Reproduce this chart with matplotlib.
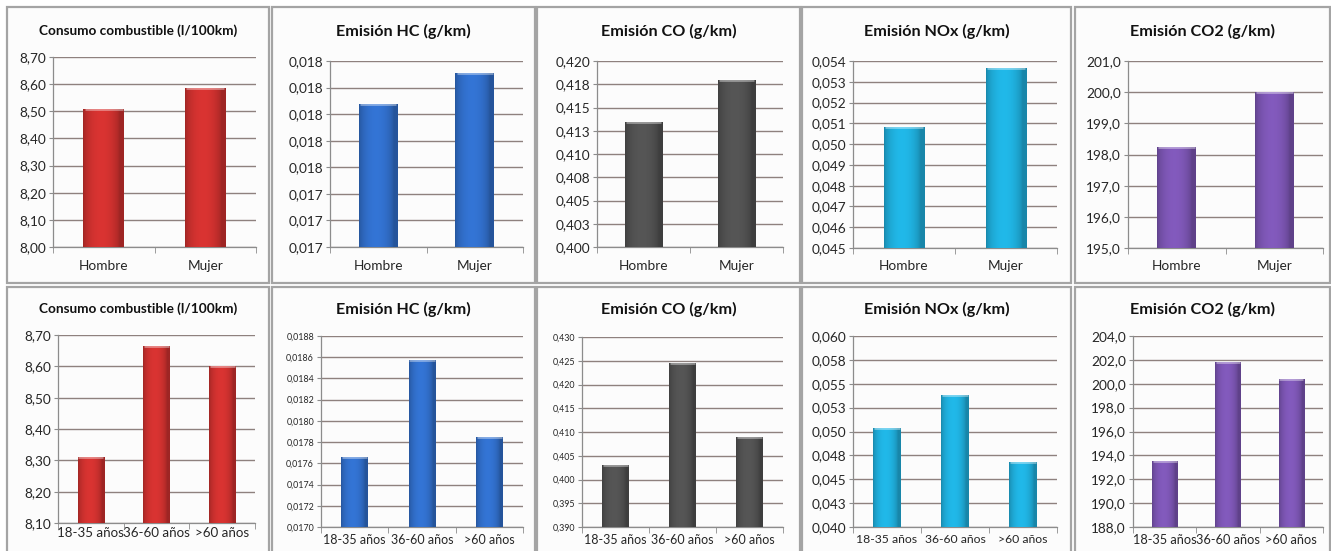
import numpy as np
import matplotlib.pyplot as plt
from matplotlib.patches import Rectangle
from matplotlib.colors import to_rgb
from decimal import Decimal, ROUND_HALF_UP

plt.rcParams['font.family'] = ['Lato', 'DejaVu Sans']

# categories
sexo = ['Hombre', 'Mujer']
edad = ['18-35 años', '36-60 años', '>60 años']

# values by sex
consumo_sexo = [8.507, 8.587]
hc_sexo = [0.01808, 0.01831]
co_sexo = [0.4134, 0.4180]
nox_sexo = [0.0508, 0.05365]
co2_sexo = [198.25, 200.0]

# values by age group
consumo_edad = [8.31, 8.665, 8.60]
hc_edad = [0.01766, 0.01857, 0.01785]
co_edad = [0.4031, 0.4246, 0.4089]
nox_edad = [0.05038, 0.05381, 0.04682]
co2_edad = [193.5, 201.8, 200.4]

titulos = ['Consumo combustible (l/100km)', 'Emisión HC (g/km)', 'Emisión CO (g/km)',
           'Emisión NOx (g/km)', 'Emisión CO2 (g/km)']

# y axis: (min, max, step, decimals)
ejes_sexo = [(8.00, 8.70, 0.10, 2), (0.0170, 0.0184, 0.0002, 3), (0.400, 0.420, 0.0025, 3),
             (0.045, 0.054, 0.001, 3), (195.0, 201.0, 1.0, 1)]
ejes_edad = [(8.10, 8.70, 0.10, 2), (0.0170, 0.0188, 0.0002, 4), (0.390, 0.430, 0.005, 3),
             (0.040, 0.060, 0.0025, 3), (188.0, 204.0, 2.0, 1)]

colores = ['#C62F2D', '#2F6AC2', '#4E4E4E', '#1EA8D4', '#7752AC']

# panel frames and plot areas in pixels (left, top, right, bottom)
W, H = 1331, 551
paneles = [[(7, 7, 269, 283), (272, 7, 535, 283), (537, 7, 800, 283), (802, 7, 1071, 283), (1075, 7, 1330, 283)],
           [(7, 287, 269, 560), (272, 287, 535, 560), (537, 287, 800, 560), (802, 287, 1071, 560), (1075, 287, 1330, 560)]]
areas = [[(53, 57, 256, 247), (330, 61, 523, 247), (597, 61, 783, 247), (853, 61, 1057, 248), (1128, 61, 1323, 248)],
         [(58, 335, 255, 523), (321, 336, 523, 527), (582, 337, 783, 527), (853, 336, 1057, 527), (1133, 336, 1323, 527)]]
titulo_y = [31, 309]
titulo_size = [[9.8, 11.6, 11.6, 11.6, 11.6], [9.8, 11.6, 11.6, 11.6, 11.6]]
ytick_size = [[9.8, 9.8, 9.8, 9.8, 9.8], [9.8, 6.4, 6.4, 9.8, 9.8]]
xtick_size = [[9.8] * 5, [9.6, 9.0, 9.0, 8.8, 9.2]]
xtick_pad = [[9] * 5, [3, 5, 5, 5, 5]]

fig = plt.figure(figsize=(W / 100, H / 100), dpi=100)
fig.patch.set_facecolor('white')


def fmt(v, dec):
    q = Decimal(str(round(v, 8))).quantize(Decimal(1).scaleb(-dec), rounding=ROUND_HALF_UP)
    return str(q).replace('.', ',')


def gradiente(color):
    # cylinder-like shading across the bar width
    c = np.array(to_rgb(color))
    t = np.linspace(0, 1, 64)
    f = 0.80 + 0.30 * np.sin(np.pi * np.clip(t * 1.12, 0, 1)) ** 0.6
    img = np.clip(c[None, :] * f[:, None], 0, 1)
    return img[None, :, :]


def barras(ax, cats, vals, eje, color, fila, col):
    lo, hi, step, dec = eje
    x = np.arange(len(cats))
    bars = ax.bar(x, vals, width=0.4, bottom=0, color=color, zorder=3)
    img = gradiente(color)
    for b in bars:
        x0, w, h = b.get_x(), b.get_width(), b.get_height()
        im = ax.imshow(img, extent=(x0, x0 + w, lo, h), aspect='auto', zorder=4)
        im.set_clip_path(b)
        ax.plot([x0 + w * 0.03, x0 + w * 0.97], [h, h], color='white', alpha=0.4, lw=2.0,
                zorder=5, solid_capstyle='butt')
    ticks = np.arange(lo, hi + step / 2, step)
    ax.set_ylim(lo, hi)
    ax.set_xlim(-0.5, len(cats) - 0.5)
    ax.set_yticks(ticks)
    ax.set_yticklabels([fmt(t, dec) for t in ticks])
    ax.set_xticks(x)
    ax.set_xticklabels(cats)
    ax.set_xticks(np.arange(len(cats) + 1) - 0.5, minor=True)
    ax.grid(axis='y', color='#8E817E', lw=1.0, zorder=1)
    ax.set_facecolor('none')
    for s in ['top', 'right']:
        ax.spines[s].set_visible(False)
    for s in ['left', 'bottom']:
        ax.spines[s].set_color('#8C8C8C')
        ax.spines[s].set_linewidth(0.9)
    ax.tick_params(axis='y', length=3, color='#8C8C8C', labelsize=ytick_size[fila][col],
                   labelcolor='#262626', pad=2)
    ax.tick_params(axis='x', which='major', length=0, labelsize=xtick_size[fila][col],
                   labelcolor='#262626', pad=xtick_pad[fila][col])
    ax.tick_params(axis='x', which='minor', length=4, color='#8C8C8C')


datos = [[consumo_sexo, hc_sexo, co_sexo, nox_sexo, co2_sexo],
         [consumo_edad, hc_edad, co_edad, nox_edad, co2_edad]]
cats = [sexo, edad]
ejes = [ejes_sexo, ejes_edad]

for fila in range(2):
    for col in range(5):
        l, t, r, b = paneles[fila][col]
        fig.patches.append(Rectangle((l / W, 1 - b / H), (r - l) / W, (b - t) / H,
                                     transform=fig.transFigure, facecolor='#FCFCFC',
                                     edgecolor='#A4A4A4', lw=1.6, zorder=-5))
        fig.text((l + r) / 2 / W, 1 - titulo_y[fila] / H, titulos[col], ha='center', va='center',
                 fontsize=titulo_size[fila][col], fontweight='bold', color='#111111')
        al, at, ar, ab = areas[fila][col]
        ax = fig.add_axes([al / W, 1 - ab / H, (ar - al) / W, (ab - at) / H])
        barras(ax, cats[fila], datos[fila][col], ejes[fila][col], colores[col], fila, col)

fig.savefig('out.png', dpi=100)
